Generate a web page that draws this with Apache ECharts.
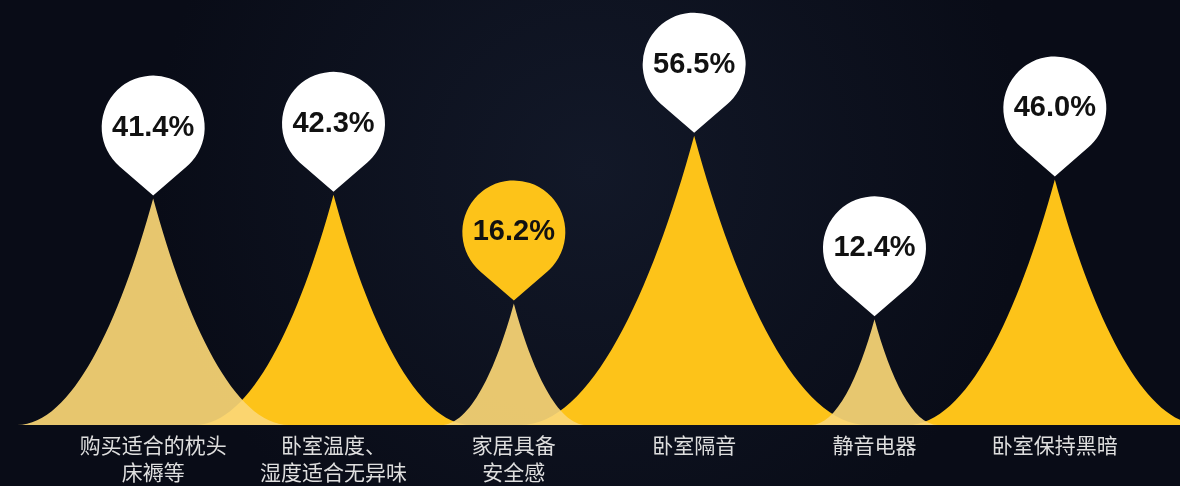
<!DOCTYPE html>
<html lang="zh">
<head>
    <meta charset="UTF-8">
    <title>卧室睡眠环境</title>
    <script src="https://cdn.jsdelivr.net/npm/echarts@6/dist/echarts.min.js"></script>
    <style>
        html, body { margin: 0; padding: 0; background: #0b0f1c; }
        #main { width: 1180px; height: 486px; }
    </style>
</head>
<body>
<div id="main"></div>
<script type="text/javascript">
    // 数据
    var categories = ['购买适合的枕头\n床褥等', '卧室温度、\n湿度适合无异味', '家居具备\n安全感', '卧室隔音', '静音电器', '卧室保持黑暗'];
    var percents = [41.4, 42.3, 16.2, 56.5, 12.4, 46.0];
    var highlightIndex = 2;   // 黄色气泡

    var axisMin = -13, axisMax = 67;
    var bright = '#FDC319';
    var pale = 'rgba(251,215,118,0.92)';
    // 气泡形状: 圆 + 尖角
    var pinPath = 'path://M17.4,87.9 A50,50 0 1,1 82.6,87.9 L50,116 Z';

    var points = percents.map(function (v, i) { return [categories[i], v]; });

    var myChart = echarts.init(document.getElementById('main'));

    function renderMountain(params, api) {
        var top = api.coord([api.value(0), api.value(1)]);
        var by = params.coordSys.y + params.coordSys.height;
        var x = top[0], ty = top[1];
        var h = by - ty;
        var hw = h * 0.6;
        var d = 'M' + (x - hw) + ',' + by +
            ' C' + (x - hw * 0.6) + ',' + by + ' ' + (x - hw * 0.25) + ',' + (by - h * 0.45) + ' ' + x + ',' + ty +
            ' C' + (x + hw * 0.25) + ',' + (by - h * 0.45) + ' ' + (x + hw * 0.6) + ',' + by + ' ' + (x + hw) + ',' + by + ' Z';
        var isPale = params.dataIndex % 2 === 0;
        return {
            type: 'path',
            z2: isPale ? 2 : 1,
            shape: { pathData: d },
            style: { fill: isPale ? pale : bright }
        };
    }

    myChart.setOption({
        backgroundColor: {
            type: 'radial', x: 0.5, y: 0.35, r: 0.9,
            colorStops: [
                { offset: 0, color: '#121828' },
                { offset: 1, color: '#090c17' }
            ]
        },
        animation: false,
        grid: { left: 63, right: 35, top: 92, bottom: 58 },
        xAxis: {
            type: 'category',
            data: categories,
            axisLine: { show: false },
            axisTick: { show: false },
            axisLabel: {
                interval: 0,
                color: '#dedede',
                fontSize: 21,
                lineHeight: 27,
                margin: 7,
                fontFamily: 'Noto Sans CJK SC'
            }
        },
        yAxis: {
            type: 'value',
            min: axisMin,
            max: axisMax,
            show: false,
            splitLine: { show: false }
        },
        series: [
            {
                type: 'custom',
                renderItem: renderMountain,
                data: points,
                z: 2
            },
            {
                type: 'scatter',
                data: points,
                symbol: pinPath,
                symbolSize: [103, 120],
                symbolOffset: [0, -63],
                z: 5,
                itemStyle: {
                    opacity: 1,
                    color: function (p) { return p.dataIndex === highlightIndex ? bright : '#ffffff'; }
                },
                label: {
                    show: true,
                    position: 'inside',
                    offset: [0, -8],
                    color: '#111111',
                    fontSize: 29,
                    fontWeight: 'bold',
                    fontFamily: 'Liberation Sans',
                    formatter: function (p) { return p.value[1].toFixed(1) + '%'; }
                }
            }
        ]
    });
</script>
</body>
</html>
